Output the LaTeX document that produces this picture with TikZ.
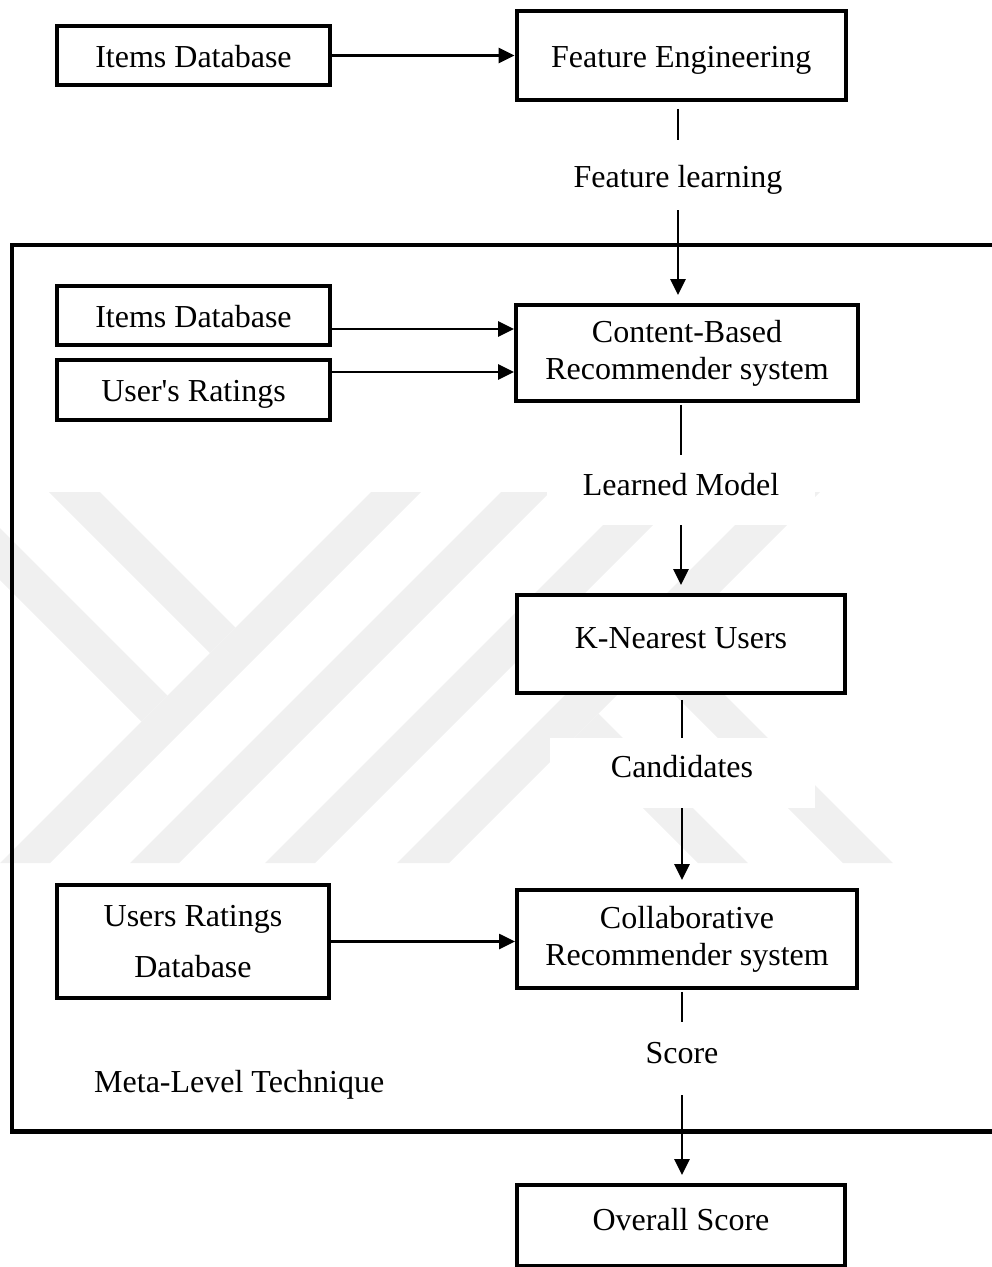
\documentclass[tikz,border=0pt]{standalone}
\usepackage{fontspec}
\setmainfont{Liberation Serif}
\usetikzlibrary{arrows.meta}
\definecolor{wmgray}{gray}{0.94}
\begin{document}
\begin{tikzpicture}[x=1pt,y=-1pt,
  txt/.style={font=\fontsize{32}{37}\selectfont},
  box/.style={txt,draw,line width=4.4pt,fill=white,inner sep=0pt,align=center},
  oneline/.style={text height=23pt,text depth=0pt},
  lowline/.style={text height=23pt,text depth=14pt},
  lbl/.style={txt,fill=white,inner sep=0pt,text height=23pt},
  conn/.style={line width=2.5pt},
  arr/.style={conn,-{Triangle[length=16pt,width=15pt]}},
  frame/.style={line width=4.5pt},
  wm/.style={fill=wmgray,draw=none}
]
\useasboundingbox (0,0) rectangle (992,1267);
\clip (0,0) rectangle (992,1267);

% background stripes
\begin{scope}
  \clip (-20,492) rectangle (1000,863);
  \fill[wm] (0,863) -- (50,863) -- (423,490) -- (373,490) -- cycle;
  \fill[wm] (47,490) -- (98,490) -- (235.5,627.5) -- (210,653) -- cycle;
  \fill[wm] (-10,518) -- (167.5,695.5) -- (141.5,721.5) -- (-10,570) -- cycle;
  \fill[wm] (130,863) -- (179,863) -- (552,490) -- (503,490) -- cycle;
  \fill[wm] (265,863) -- (315,863) -- (688,490) -- (638,490) -- cycle;
  \fill[wm] (397,863) -- (449,863) -- (822,490) -- (770,490) -- cycle;
  \fill[wm] (598.5,713.5) -- (748,863) -- (698,863) -- (573.5,738.5) -- cycle;
  \fill[wm] (671,641) -- (893,863) -- (843,863) -- (646,666) -- cycle;
\end{scope}

% meta-level frame, open on the right
\draw[frame] (1000,245) -- (12.2,245) -- (12.2,1131.5) -- (1000,1131.5);

% boxes
\node[box,oneline,minimum width=272.5pt,minimum height=58.5pt] (items1) at (193.5,55.5) {Items Database};
\node[box,oneline,minimum width=329pt,minimum height=88.5pt] (fe) at (681.25,55.5) {Feature Engineering};
\node[box,oneline,minimum width=272.5pt,minimum height=58.5pt] (items2) at (193.5,315.5) {Items Database};
\node[box,oneline,minimum width=272.5pt,minimum height=59.5pt] (ur) at (193.5,390) {User\textquotesingle s Ratings};
\node[box,minimum width=341.5pt,minimum height=95.5pt] (cb) at (687,353) {Content-Based\\Recommender system};
\node[box,lowline,minimum width=327.5pt,minimum height=97.5pt] (knn) at (681,644) {K-Nearest Users};
\node[box,minimum width=271.5pt,minimum height=112.5pt] (urd) at (193,941.5) {Users Ratings\\[14pt]Database};
\node[box,minimum width=339.5pt,minimum height=97.5pt] (collab) at (687,939) {Collaborative\\Recommender system};
\node[box,lowline,minimum width=327.5pt,minimum height=81.25pt] (overall) at (681,1225.9) {Overall Score};

% connector labels
\node[lbl,text height=24pt,text depth=0pt,minimum width=230pt,minimum height=70pt] (fl) at (678,175) {Feature learning};
\node[lbl,text depth=13pt,minimum width=268pt,minimum height=70pt] (lm) at (681,490) {Learned Model};
\node[lbl,text depth=14pt,minimum width=265pt,minimum height=70pt] (cand) at (682,773) {Candidates};
\node[lbl,text depth=14pt,minimum width=120pt,minimum height=73pt] (score) at (682,1058.5) {Score};
\node[txt,inner sep=0pt,anchor=base west] (meta) at (94,1092) {Meta-Level Technique};

% connectors
\draw[arr] (items1.east) -- (items1.east -| fe.west);
\draw[conn,shorten <=7pt] (fl.north |- fe.south) -- (fl.north);
\draw[arr,shorten >=8pt] (fl.south) -- (fl.south |- cb.north);
\draw[arr] ([yshift=-13.5pt]items2.east) -- ([yshift=-13.5pt]items2.east -| cb.west);
\draw[arr] ([yshift=18pt]ur.east) -- ([yshift=18pt]ur.east -| cb.west);
\draw[conn,shorten <=2pt] (lm.north |- cb.south) -- (lm.north);
\draw[arr,shorten >=8pt] (lm.south) -- (lm.south |- knn.north);
\draw[conn,shorten <=5pt] (cand.north |- knn.south) -- (cand.north);
\draw[arr,shorten >=8pt] (cand.south) -- (cand.south |- collab.north);
\draw[arr] (urd.east) -- (urd.east -| collab.west);
\draw[conn,shorten <=2pt] (score.north |- collab.south) -- (score.north);
\draw[arr,shorten >=8pt] (score.south) -- (score.south |- overall.north);
\end{tikzpicture}
\end{document}
